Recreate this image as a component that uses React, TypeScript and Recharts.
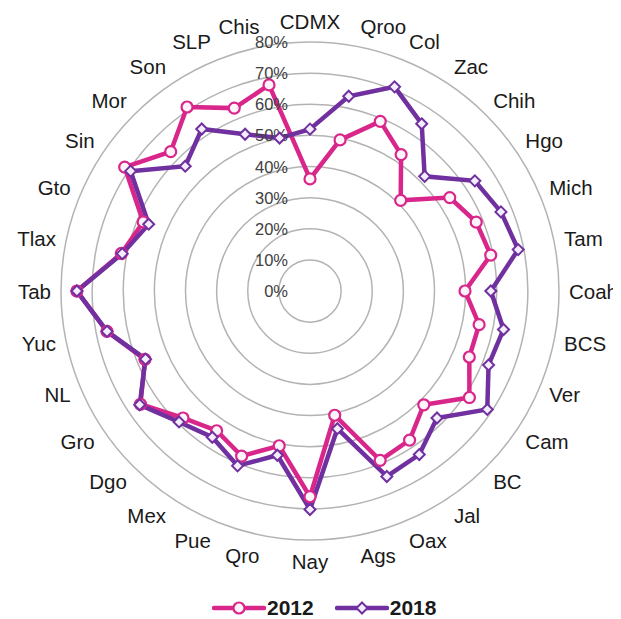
import { RadarChart, Radar, PolarGrid, PolarAngleAxis, PolarRadiusAxis, Legend } from 'recharts';

const states = [
  'CDMX', 'Qroo', 'Col', 'Zac', 'Chih', 'Hgo', 'Mich', 'Tam', 'Coah', 'BCS', 'Ver',
  'Cam', 'BC', 'Jal', 'Oax', 'Ags', 'Nay', 'Qro', 'Pue', 'Mex', 'Dgo', 'Gro',
  'NL', 'Yuc', 'Tab', 'Tlax', 'Gto', 'Sin', 'Mor', 'Son', 'SLP', 'Chis'
];

const values2012 = [
  36, 49.5, 59, 52.7, 41.2, 54, 57.8, 59.2, 49.8, 55.4, 55.4,
  61.6, 51.7, 57.6, 58.9, 40.7, 66.1, 50.7, 57.4, 54, 57.7, 65.5,
  57.4, 66.5, 74.9, 61.8, 58, 71.6, 63.3, 71.1, 63.6, 67.5
];

const values2018 = [
  52, 63.8, 71, 64.6, 52.1, 63.7, 66.4, 68.2, 58.1, 63.4, 62.1,
  68.5, 57.7, 63.2, 64.5, 45.1, 70.2, 53.8, 60.8, 56.5, 59.5, 65.8,
  57.2, 66.5, 74.9, 61.5, 56.1, 69.3, 56.7, 62.6, 54.5, 50.1
];

const radiusTicks = [0, 10, 20, 30, 40, 50, 60, 70, 80];

const PINK = '#D9268A';
const PURPLE = '#7030A0';
const FONT = '"Liberation Sans", Arial, sans-serif';

const data = states.map((state, i) => ({
  state,
  y2012: values2012[i],
  y2018: values2018[i]
}));

const CircleDot = (props: any) => {
  const { cx, cy } = props;
  if (cx == null || cy == null) return null;
  return <circle cx={cx} cy={cy} r={5.5} fill="#fdf3fa" stroke={PINK} strokeWidth={2.2} />;
};

const DiamondDot = (props: any) => {
  const { cx, cy } = props;
  if (cx == null || cy == null) return null;
  const s = 5.5;
  return (
    <polygon
      points={`${cx},${cy - s} ${cx + s},${cy} ${cx},${cy + s} ${cx - s},${cy}`}
      fill="#f4eefc"
      stroke={PURPLE}
      strokeWidth={2}
    />
  );
};

// category labels pushed a little beyond the outer ring
const AngleTick = (props: any) => {
  const { x, y, payload } = props;
  const rad = (payload.coordinate * Math.PI) / 180;
  const dx = Math.cos(rad);
  const dy = -Math.sin(rad);
  const px = x + dx * 2;
  const py = y + dy * 3 + dy * 10;
  const anchor = dx > 0.05 ? 'start' : dx < -0.05 ? 'end' : 'middle';
  return (
    <text
      x={px}
      y={py}
      textAnchor={anchor}
      dominantBaseline="central"
      fontSize={20.5}
      fontFamily={FONT}
      fill="#1a1a1a"
    >
      {payload.value}
    </text>
  );
};

const RadiusTick = (props: any) => {
  const { x, y, payload } = props;
  return (
    <text
      x={x - 22}
      y={y}
      textAnchor="end"
      dominantBaseline="central"
      fontSize={16.5}
      fontFamily={FONT}
      fill="#404040"
    >
      {`${payload.value}%`}
    </text>
  );
};

const renderLegend = () => (
  <div
    style={{
      display: 'flex',
      alignItems: 'center',
      gap: 21,
      fontFamily: FONT,
      fontWeight: 'bold',
      fontSize: 21,
      color: '#1a1a1a'
    }}
  >
    <div style={{ display: 'flex', alignItems: 'center' }}>
      <svg width={54} height={20}>
        <line x1={2} y1={10} x2={52} y2={10} stroke={PINK} strokeWidth={4.5} strokeLinecap="round" />
        <circle cx={27} cy={10} r={5.5} fill="#fdf3fa" stroke={PINK} strokeWidth={2.2} />
      </svg>
      <span style={{ marginLeft: 1 }}>2012</span>
    </div>
    <div style={{ display: 'flex', alignItems: 'center' }}>
      <svg width={54} height={20}>
        <line x1={2} y1={10} x2={52} y2={10} stroke={PURPLE} strokeWidth={4.5} strokeLinecap="round" />
        <polygon points="27,4.5 32.5,10 27,15.5 21.5,10" fill="#f4eefc" stroke={PURPLE} strokeWidth={2} />
      </svg>
      <span style={{ marginLeft: 1 }}>2018</span>
    </div>
  </div>
);

export default function App() {
  return (
    <div style={{ width: 613, height: 611, position: 'relative' }}>
      <RadarChart
        width={613}
        height={611}
        data={data}
        cx={302}
        cy={283}
        outerRadius={249}
        margin={{ top: 0, right: 0, bottom: 0, left: 0 }}
      >
        <PolarGrid gridType="circle" radialLines={false} stroke="#b3b3b3" strokeWidth={1.5} />
        <PolarAngleAxis dataKey="state" tick={<AngleTick />} tickLine={false} axisLine={false} />
        <PolarRadiusAxis
          type="number"
          domain={[0, 80]}
          ticks={radiusTicks}
          angle={90}
          axisLine={false}
          tickLine={false}
          tick={<RadiusTick />}
        />
        <Radar
          name="2012"
          dataKey="y2012"
          stroke={PINK}
          strokeWidth={4.5}
          fill="none"
          fillOpacity={0}
          dot={<CircleDot />}
          isAnimationActive={false}
        />
        <Radar
          name="2018"
          dataKey="y2018"
          stroke={PURPLE}
          strokeWidth={4.5}
          fill="none"
          fillOpacity={0}
          dot={<DiamondDot />}
          isAnimationActive={false}
        />
        <Legend
          verticalAlign="top"
          content={renderLegend}
          wrapperStyle={{ left: 204, top: 588, width: 260, bottom: 'auto' }}
        />
      </RadarChart>
    </div>
  );
}
